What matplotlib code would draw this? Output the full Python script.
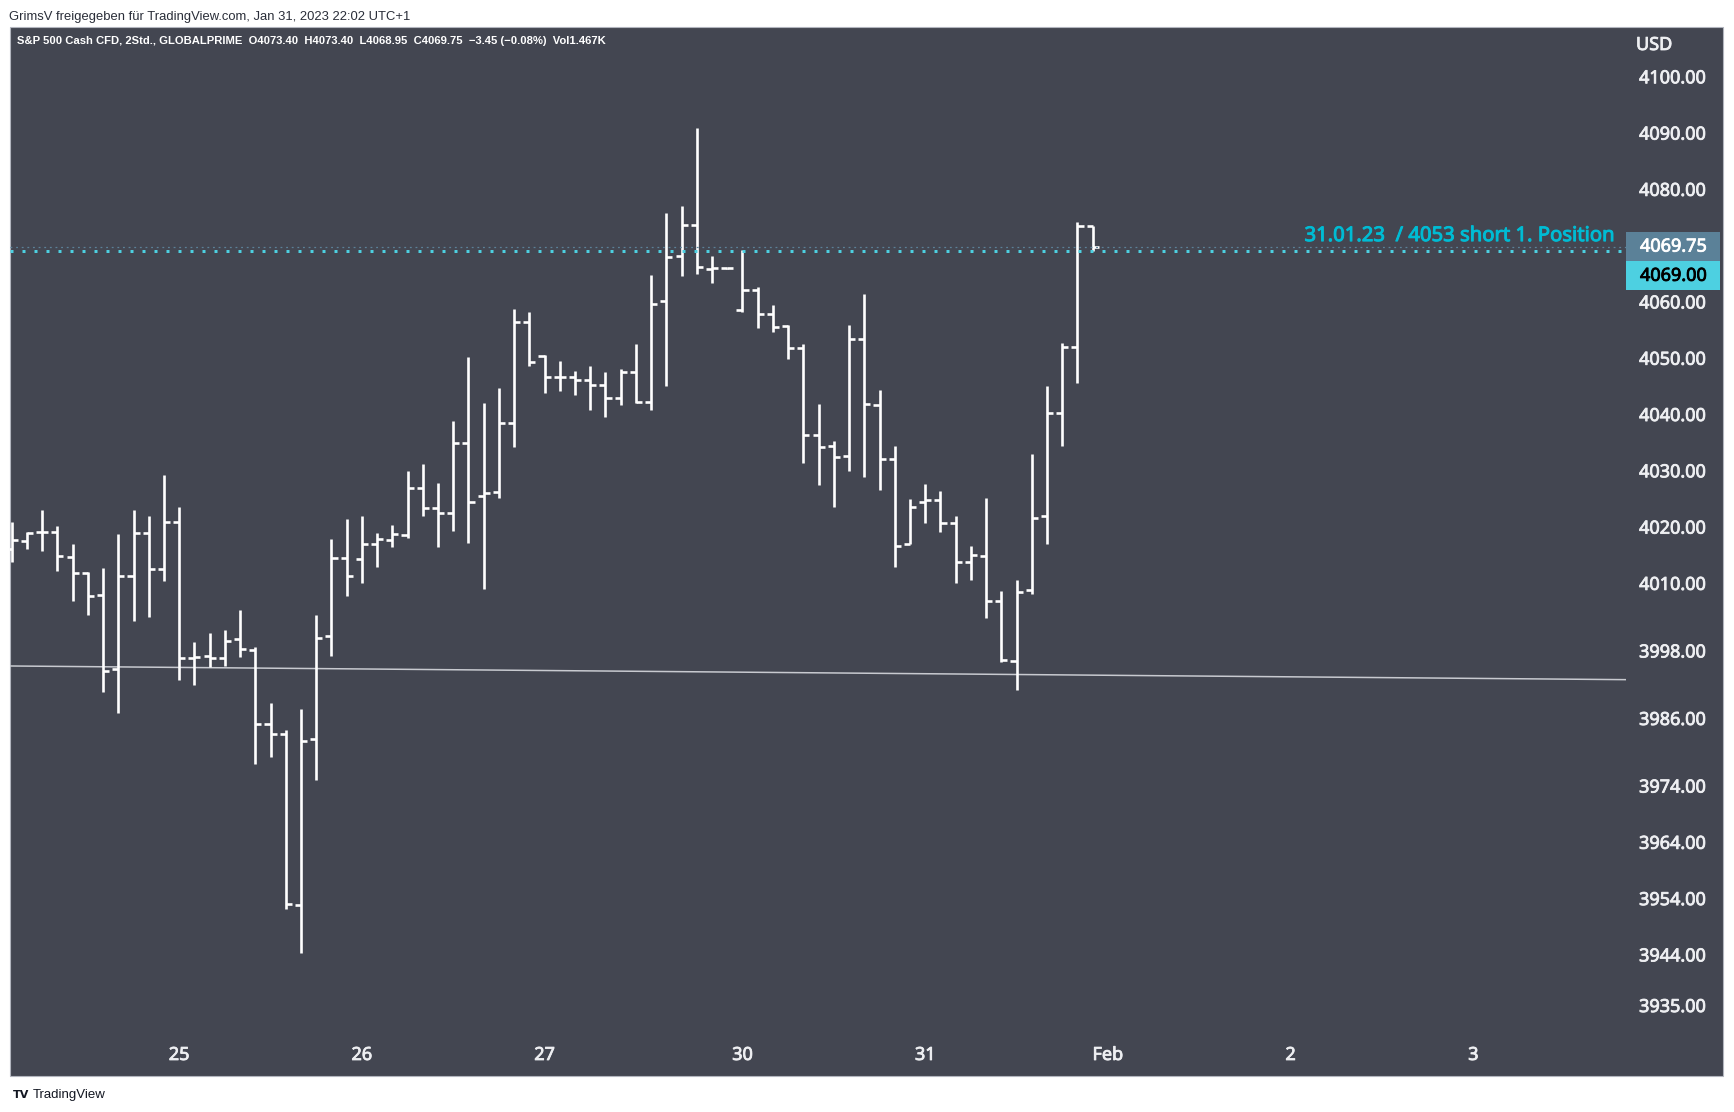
import numpy as np
import matplotlib
matplotlib.use('Agg')
import matplotlib.pyplot as plt
import matplotlib.patheffects as pe
from matplotlib import font_manager
from matplotlib.patches import Rectangle
from matplotlib.transforms import blended_transform_factory

# S&P 500 Cash CFD, 2h bars (GLOBALPRIME)
opens = [4016.0, 4017.5, 4019.0, 4019.0, 4014.6, 4011.8, 4007.8, 3994.7, 4011.3, 4018.8,
         4012.4, 4020.8, 3996.6, 3997.0, 3996.6, 4000.0, 3998.1, 3984.9, 3983.1, 3952.7,
         3982.2, 4000.6, 4014.4, 4014.2, 4017.0, 4017.6, 4018.5, 4026.8, 4023.3, 4022.4,
         4034.8, 4025.4, 4026.2, 4038.4, 4056.4, 4050.3, 4046.5, 4046.5, 4046.1, 4045.1,
         4042.8, 4047.4, 4042.1, 4060.0, 4068.0, 4073.5, 4065.7, 4065.9, 4058.5, 4062.0,
         4057.8, 4055.6, 4051.7, 4036.3, 4034.3, 4032.6, 4053.3, 4041.6, 4032.1, 4017.0,
         4024.4, 4024.7, 4020.7, 4013.7, 4014.8, 4006.8, 3996.1, 4008.7, 4021.8, 4040.1,
         4051.9, 4073.40]
highs = [4020.9, 4019.1, 4023.0, 4020.1, 4016.9, 4011.9, 4012.6, 4018.7, 4023.0, 4021.9,
         4029.1, 4023.4, 3999.5, 4001.1, 4001.6, 4005.2, 3998.6, 3988.6, 3983.9, 3987.6,
         4004.3, 4017.8, 4021.3, 4021.9, 4018.8, 4020.2, 4029.9, 4031.1, 4027.8, 4038.8,
         4050.1, 4041.9, 4044.6, 4058.6, 4058.1, 4050.4, 4049.4, 4047.7, 4048.5, 4047.5,
         4048.0, 4052.4, 4064.7, 4075.7, 4077.0, 4090.9, 4068.1, 4066.0, 4069.1, 4062.5,
         4059.4, 4055.8, 4052.4, 4041.8, 4035.2, 4055.8, 4061.3, 4044.3, 4034.3, 4024.9,
         4027.5, 4026.3, 4021.8, 4016.6, 4025.0, 4008.6, 4010.6, 4032.9, 4045.0, 4052.6,
         4074.1, 4073.40]
lows = [4013.8, 4016.0, 4015.6, 4012.2, 4006.8, 4004.3, 3990.7, 3986.9, 4003.3, 4003.9,
        4010.4, 3992.8, 3991.9, 3995.0, 3995.3, 3996.9, 3977.8, 3979.0, 3952.1, 3944.3,
        3975.0, 3997.1, 4007.7, 4010.0, 4012.9, 4016.3, 4017.9, 4021.9, 4016.3, 4019.3,
        4017.1, 4009.0, 4025.1, 4034.2, 4048.6, 4043.8, 4044.1, 4043.4, 4040.7, 4039.4,
        4041.6, 4041.9, 4040.7, 4045.0, 4064.6, 4064.8, 4063.3, 4065.8, 4058.2, 4055.3,
        4054.5, 4049.8, 4031.3, 4027.4, 4023.4, 4029.8, 4028.9, 4026.5, 4012.9, 4016.9,
        4020.6, 4019.1, 4010.0, 4010.6, 4003.8, 3995.9, 3990.9, 4008.0, 4017.0, 4034.4,
        4045.6, 4068.95]
closes = [4017.6, 4018.9, 4019.0, 4014.7, 4011.7, 4007.7, 3994.4, 4011.3, 4018.8, 4012.4,
          4020.8, 3996.6, 3996.8, 3996.6, 3999.6, 3998.2, 3984.9, 3983.1, 3952.9, 3981.9,
          4000.3, 4014.4, 4011.2, 4017.0, 4017.8, 4018.7, 4026.8, 4023.3, 4022.4, 4034.8,
          4024.3, 4025.9, 4038.4, 4056.3, 4049.2, 4046.5, 4046.5, 4046.1, 4045.1, 4042.8,
          4047.4, 4042.1, 4059.6, 4067.9, 4073.5, 4066.1, 4065.9, 4065.9, 4062.0, 4057.8,
          4055.5, 4051.7, 4036.3, 4034.2, 4032.4, 4053.3, 4041.7, 4032.1, 4016.6, 4023.4,
          4024.7, 4020.6, 4013.7, 4015.0, 4006.8, 3996.3, 4008.4, 4021.5, 4040.1, 4051.9,
          4073.4, 4069.75]

# time axis: bar index where each day starts
day_ticks = [11, 23, 35, 48, 60, 72, 84, 96]
day_labels = ['25', '26', '27', '30', '31', 'Feb', '2', '3']

price_ticks = [4100, 4090, 4080, 4060, 4050, 4040, 4030, 4020, 4010,
               3998, 3986, 3974, 3964, 3954, 3944, 3935]

position_level = 4069.00
last_price = 4069.75
# hand-drawn support line (bar index, price)
trend_x = [-0.11, 106.03]
trend_y = [3995.24, 3992.81]

header = ('S&P 500 Cash CFD, 2Std., GLOBALPRIME  O4073.40  H4073.40  L4068.95  '
          'C4069.75  \u22123.45 (\u22120.08%)  Vol1.467K')
shared_by = 'GrimsV freigegeben f\u00fcr TradingView.com, Jan 31, 2023 22:02 UTC+1'
note = '31.01.23  / 4053 short 1. Position'

# colours
bg = '#434651'
bar_color = '#ffffff'
axis_text = '#eeeff2'
cyan = '#4dd0e1'
cyan_text = '#00bcd4'
last_color = '#5b8198'

avail = {f.name for f in font_manager.fontManager.ttflist}
narrow = 'Liberation Sans Narrow' if 'Liberation Sans Narrow' in avail else 'Liberation Sans'
plt.rcParams['font.family'] = ['Noto Sans', 'DejaVu Sans']

W, H = 1734, 1112


def fx(px):
    return px / W


def fy(py):
    return 1 - py / H


def heavier(color, w=0.6):
    # thicken glyph strokes a little (TradingView renders its labels semi-bold)
    return [pe.withStroke(linewidth=w, foreground=color)]


fig = plt.figure(figsize=(W / 100, H / 100), dpi=100)
fig.patch.set_facecolor('white')

# dark chart frame (pane + both axes)
frame = Rectangle((fx(10), fy(1076)), fx(1723) - fx(10), fy(27) - fy(1076),
                  transform=fig.transFigure, facecolor=bg, edgecolor='#b2b5be',
                  linewidth=0.8, zorder=-10)
fig.add_artist(frame)

ax = fig.add_axes([fx(10), fy(1030), fx(1626) - fx(10), fy(27) - fy(1030)])
ax.set_zorder(1)
ax.patch.set_visible(False)
for s in ax.spines.values():
    s.set_visible(False)

idx = np.arange(len(opens))
bar_lw = 1.9
ax.vlines(idx, lows, highs, colors=bar_color, linewidth=bar_lw, zorder=3)
ax.hlines(opens, idx - 0.4, idx, colors=bar_color, linewidth=bar_lw, zorder=3)
ax.hlines(closes, idx, idx + 0.4, colors=bar_color, linewidth=bar_lw, zorder=3)

# trend line
ax.plot(trend_x, trend_y, color='#c8cad0', linewidth=1.1, zorder=2)

# horizontal levels
ax.axhline(last_price, color=last_color, linewidth=0.9, dashes=(1.5, 3.0), zorder=4)
ax.axhline(position_level, color=cyan, linewidth=2.16, dashes=(1, 3), zorder=4)

ax.set_xlim(-0.112, 106.03)
ax.set_ylim(3930.57, 4108.76)

ax.yaxis.tick_right()
ax.set_yticks(price_ticks)
ax.set_yticklabels([f'{v:.2f}' for v in price_ticks])
ax.tick_params(axis='y', length=0, pad=9.4, labelsize=13, labelcolor=axis_text)

ax.set_xticks(day_ticks)
ax.set_xticklabels(day_labels)
ax.tick_params(axis='x', length=0, pad=11.5, labelsize=13, labelcolor=axis_text)
for lbl in ax.get_xticklabels() + ax.get_yticklabels():
    lbl.set_path_effects(heavier(axis_text))
for lbl in ax.get_xticklabels():
    if lbl.get_text() == 'Feb':
        lbl.set_fontweight('bold')

# price labels on the scale
bt = blended_transform_factory(ax.transAxes, ax.transData)
box_w = (1720 - 1626) / 1616
half_h = 2.6
ax.add_patch(Rectangle((1.0, last_price - half_h), box_w, 2 * half_h, transform=bt,
                       facecolor=last_color, edgecolor='none', clip_on=False, zorder=5))
ax.add_patch(Rectangle((1.0, last_price - 3 * half_h), box_w, 2 * half_h, transform=bt,
                       facecolor=cyan, edgecolor='none', clip_on=False, zorder=5))
tx = 1.0 + 14 / 1616
ax.text(tx, last_price, f'{last_price:.2f}', transform=bt, ha='left', va='center',
        fontsize=13, color='white', zorder=6, path_effects=heavier('white'))
ax.text(tx, last_price - 2 * half_h, f'{position_level:.2f}', transform=bt, ha='left',
        va='center', fontsize=13, color='black', zorder=6, path_effects=heavier('black'))

# note above the cyan line
ax.annotate(note, xy=(0.9932, position_level), xycoords=bt, xytext=(0, 7),
            textcoords='offset points', ha='right', va='baseline', fontsize=14.6,
            color=cyan_text, zorder=6, path_effects=heavier(cyan_text, 0.7))

fig.text(fx(1636), fy(45), 'USD', ha='left', va='center', fontsize=13,
         color=axis_text, path_effects=heavier(axis_text))
fig.text(fx(17), fy(41.5), header, ha='left', va='center', fontsize=8.1, color='white',
         fontweight='bold', family=narrow)
fig.text(fx(9), fy(17), shared_by, ha='left', va='center', fontsize=9.4, color='#2a2e39',
         family=narrow)
fig.text(fx(13), fy(1095), 'TV', ha='left', va='center', fontsize=8, fontweight='heavy',
         color='#131722', family='DejaVu Sans')
fig.text(fx(33), fy(1095), 'TradingView', ha='left', va='center', fontsize=9.5,
         color='#131722', family=narrow)

fig.savefig('out.png', dpi=100, facecolor='white')
